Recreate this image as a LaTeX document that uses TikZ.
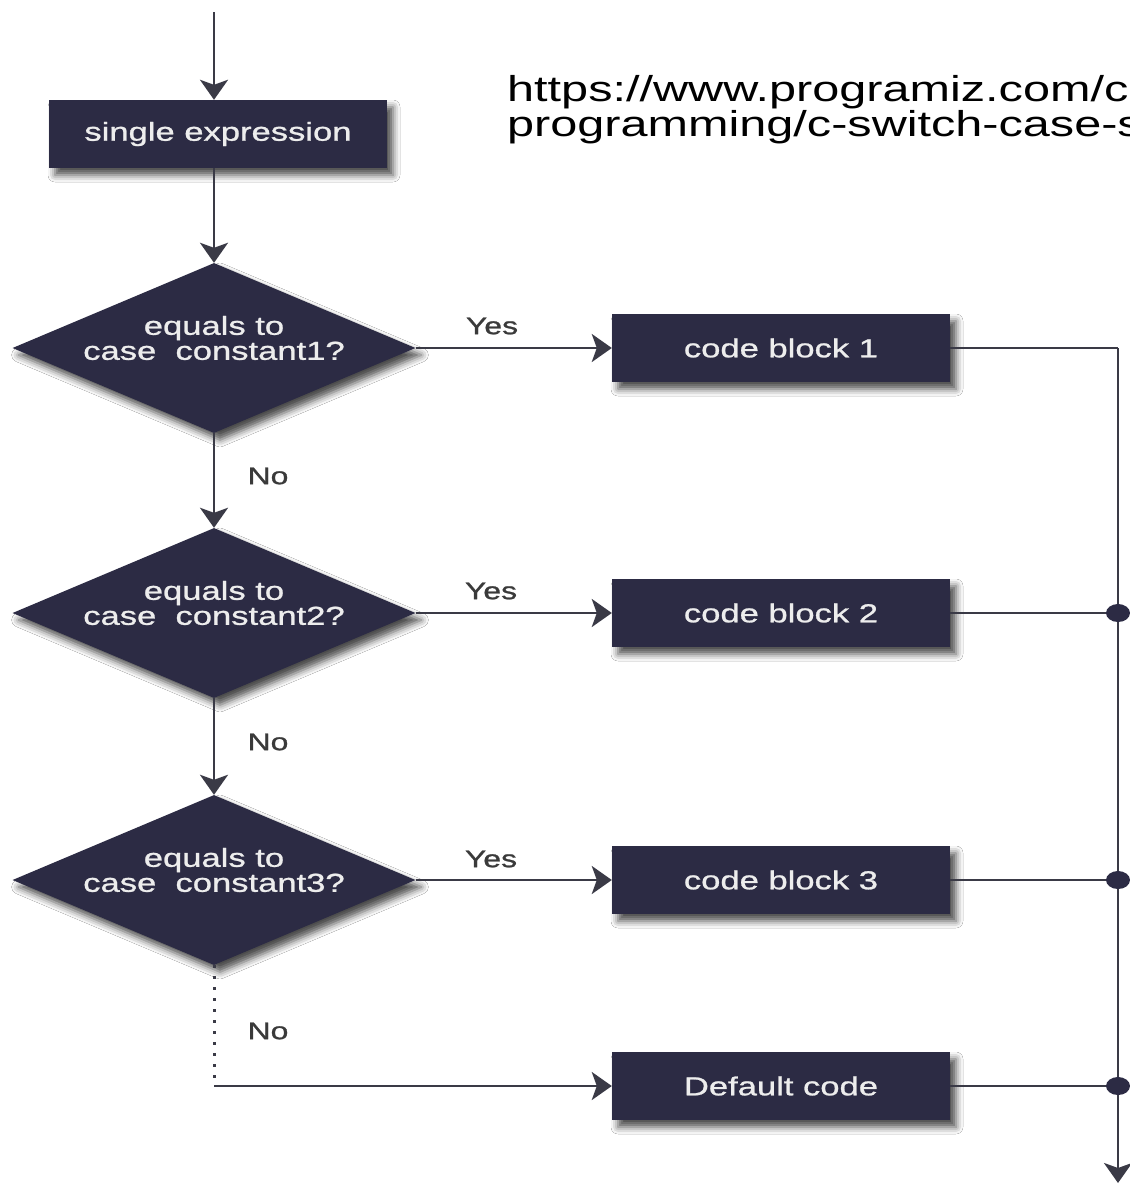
\documentclass[tikz,border=0pt]{standalone}
\usepackage{fontspec}
\setmainfont{Liberation Sans}
\newfontfamily\flowfont[FakeStretch=1.33,FakeBold=1]{Liberation Sans}
\newfontfamily\linkfont[FakeStretch=1.35]{Liberation Sans}
\usetikzlibrary{shapes.geometric,arrows.meta,shadows.blur}
\definecolor{boxnavy}{HTML}{2C2B44}
\definecolor{labelgray}{HTML}{3A3A3A}
\definecolor{wirecol}{HTML}{3A3A46}
\definecolor{boxtext}{HTML}{EDEDED}
\begin{document}
\begin{tikzpicture}[x=1pt,y=-1pt,
  softshadow/.style={blur shadow={shadow xshift=6pt,shadow yshift=-7pt,shadow blur radius=7pt,shadow opacity=70}},
  procbox/.style={rectangle, fill=boxnavy, minimum width=338pt, minimum height=68pt,
    inner sep=0pt, text=boxtext, font=\flowfont\fontsize{26}{25}\selectfont, softshadow},
  decision/.style={diamond, fill=boxnavy, minimum width=403pt, minimum height=170pt,
    aspect=2.37, inner sep=0pt, softshadow},
  dtext/.style={text=boxtext, font=\flowfont\fontsize{26}{25}\selectfont, align=center, yshift=10pt},
  branch/.style={font=\flowfont\fontsize{24}{25}\selectfont, text=labelgray},
  wire/.style={draw=wirecol, line width=2.5pt},
  flow/.style={wire, -{Stealth[length=20pt,width=28pt,inset=5pt]}},
  joint/.style={ellipse, fill=boxnavy, minimum width=24pt, minimum height=18pt, inner sep=0pt}
]
% page frame
\useasboundingbox (0,0) rectangle (1130,1184);
\clip (0,0) rectangle (1130,1184);
\fill[white] (0,0) rectangle (1130,1184);

% source link
\node[anchor=north west, align=left, inner sep=0pt,
      font=\linkfont\fontsize{36}{35}\selectfont] (link) at (507,75)
  {https://www.programiz.com/c-\\programming/c-switch-case-statement};

% entry and switch expression
\coordinate (entry) at (214,12);
\node[procbox] (se) at (218,134) {single expression};

% decisions
\node[decision, label={[dtext]center:{equals to\\case~~constant1?}}] (d1) at (214,348) {};
\node[decision, label={[dtext]center:{equals to\\case~~constant2?}}] (d2) at (214,613) {};
\node[decision, label={[dtext]center:{equals to\\case~~constant3?}}] (d3) at (214,880) {};

% case bodies
\node[procbox] (c1) at (781,348) {code block 1};
\node[procbox] (c2) at (781,613) {code block 2};
\node[procbox] (c3) at (781,880) {code block 3};
\node[procbox] (cd) at (781,1086) {Default code};

% helper points
\coordinate (bend) at (214,1086);
\coordinate (busTop) at (1118,348);
\coordinate (exit) at (1118,1183);

% main column
\draw[flow] (entry) -- (entry |- se.north);
\draw[flow] (se.south -| d1.north) -- (d1.north);
\draw[flow] (d1.south) -- (d2.north);
\draw[flow] (d2.south) -- (d3.north);
\draw[wire, line width=3pt, dash pattern=on 3pt off 8pt] (d3.south) -- (bend);
\draw[flow] (bend) -- (cd.west);

% yes branches
\draw[flow] (d1.east) -- (c1.west);
\draw[flow] (d2.east) -- (c2.west);
\draw[flow] (d3.east) -- (c3.west);

% collecting bus on the right
\draw[wire] (c1.east) -- (busTop);
\draw[flow] (busTop) -- (exit);
\node[joint] (j2) at (c2.east -| busTop) {};
\node[joint] (j3) at (c3.east -| busTop) {};
\node[joint] (jd) at (cd.east -| busTop) {};
\draw[wire] (c2.east) -- (j2);
\draw[wire] (c3.east) -- (j3);
\draw[wire] (cd.east) -- (jd);

% branch labels
\node[branch] (y1) at (492,326) {Yes};
\node[branch] (y2) at (491,591) {Yes};
\node[branch] (y3) at (491,859) {Yes};
\node[branch] (n1) at (268,476) {No};
\node[branch] (n2) at (268,742) {No};
\node[branch] (n3) at (268,1031) {No};
\end{tikzpicture}
\end{document}
